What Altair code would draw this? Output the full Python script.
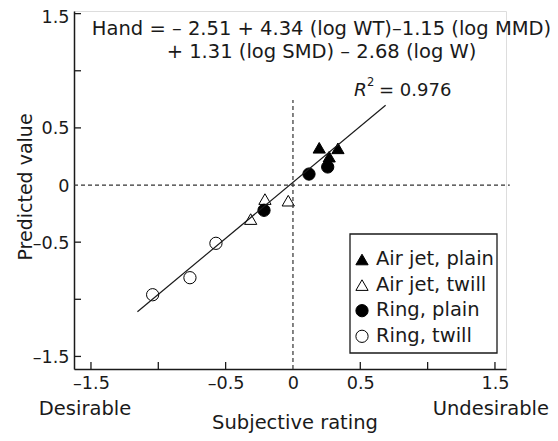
import altair as alt
import pandas as pd

# ---------------- data ----------------
series = ["Air jet, plain", "Air jet, twill", "Ring, plain", "Ring, twill"]

ajp_x = [0.195, 0.269, 0.334]
ajp_y = [0.326, 0.248, 0.321]
ajt_x = [-0.208, -0.314, -0.035]
ajt_y = [-0.123, -0.298, -0.137]
rp_x = [0.119, 0.258, -0.215]
rp_y = [0.096, 0.158, -0.221]
rt_x = [-0.572, -0.765, -1.042]
rt_y = [-0.510, -0.811, -0.960]

fit_x = [-1.155, 0.688]
fit_y = [-1.109, 0.698]

tick_values = [-1.5, -1.0, -0.5, 0.5, 1.0, 1.5]
axis_values = [-1.5, -1.0, -0.5, 0, 0.5, 1.0, 1.5]

eq_lines = ["Hand = \u2013 2.51 + 4.34 (log WT)\u20131.15 (log MMD)",
            "+ 1.31 (log SMD) \u2013 2.68 (log W)"]
r2_value = "= 0.976"

# ---------------- layout ----------------
FONT = "DejaVu Sans"
FS = 19.5
W, H = 432, 358
X_DOM = [-1.626, 1.582]
Y_DOM = [-1.610, 1.523]
xs = alt.Scale(domain=X_DOM, nice=False, zero=False)
ys = alt.Scale(domain=Y_DOM, nice=False, zero=False)

shape_scale = alt.Scale(domain=series, range=["triangle-up", "triangle-up", "circle", "circle"])
fill_scale = alt.Scale(domain=series, range=["black", "white", "black", "white"])
size_scale = alt.Scale(domain=series, range=[150, 150, 95, 95])

pts = pd.DataFrame({
    "x": ajp_x + ajt_x + rp_x + rt_x,
    "y": ajp_y + ajt_y + rp_y + rt_y,
    "series": [series[0]] * 3 + [series[1]] * 3 + [series[2]] * 3 + [series[3]] * 3,
})

lab_expr = "abs(datum.value) == 1 ? '' : replace(datum.label, '\u2212', '\u2013')"


def mk_axis(offset=0):
    return alt.Axis(values=axis_values, format=".1~f", labelExpr=lab_expr,
                    ticks=False, tickSize=0, grid=False, title=None,
                    domainColor="#1a1a1a", domainWidth=1.5,
                    labelFont=FONT, labelFontSize=17.6, labelColor="#1a1a1a",
                    labelPadding=5, labelOffset=offset, labelFlush=False, labelOverlap=False)


y_offset = {"condition": {"test": "datum.value == 1.5", "value": 3.5}, "value": 1.0}

points = alt.Chart(pts).mark_point(filled=True, stroke="black", strokeWidth=1, opacity=1).encode(
    x=alt.X("x:Q", scale=xs, axis=mk_axis()),
    y=alt.Y("y:Q", scale=ys, axis=mk_axis(y_offset)),
    shape=alt.Shape("series:N", scale=shape_scale, legend=None),
    fill=alt.Fill("series:N", scale=fill_scale, legend=None),
    size=alt.Size("series:N", scale=size_scale, legend=None),
)

fit = alt.Chart(pd.DataFrame({"x": fit_x, "y": fit_y})).mark_line(color="#1a1a1a", strokeWidth=1.2).encode(
    x=alt.X("x:Q", scale=xs), y=alt.Y("y:Q", scale=ys))

hdash = alt.Chart(pd.DataFrame({"x": [X_DOM[0]], "x2": [1.61], "y": [0.0]})).mark_rule(
    color="#333", strokeWidth=1.2, strokeDash=[4, 3]).encode(
    x=alt.X("x:Q", scale=xs), x2="x2:Q", y=alt.Y("y:Q", scale=ys))

vdash = alt.Chart(pd.DataFrame({"x": [0.0], "y": [Y_DOM[0]], "y2": [0.744]})).mark_rule(
    color="#333", strokeWidth=1.2, strokeDash=[4, 3]).encode(
    x=alt.X("x:Q", scale=xs), y=alt.Y("y:Q", scale=ys), y2="y2:Q")

xticks = alt.Chart(pd.DataFrame({"x": tick_values})).mark_rule(color="#1a1a1a", strokeWidth=1.3).encode(
    x=alt.X("x:Q", scale=xs), y=alt.value(H), y2=alt.value(H - 7))
yticks = alt.Chart(pd.DataFrame({"y": tick_values})).mark_rule(color="#1a1a1a", strokeWidth=1.3).encode(
    y=alt.Y("y:Q", scale=ys), x=alt.value(0), x2=alt.value(7))


def txt(s, x, y, size=FS, align="center", baseline="alphabetic", angle=0, style="normal"):
    return alt.Chart(pd.DataFrame({"t": [s]})).mark_text(
        font=FONT, fontSize=size, align=align, baseline=baseline, angle=angle,
        fontStyle=style, color="#1a1a1a").encode(text="t:N", x=alt.value(x), y=alt.value(y))


texts = [
    txt(eq_lines[0], 247.5, 24),
    txt(eq_lines[1], 247.5, 47),
    txt("R", 280, 85, size=18.5, align="left", style="italic"),
    txt("2", 293, 75, size=11.5, align="left"),
    txt(r2_value, 305, 85, size=18, align="left"),
    txt("Desirable", 11, 404),
    txt("Undesirable", 475, 404, align="right"),
    txt("Subjective rating", 221, 418),
    txt("Predicted value", -42, 176, size=19, angle=270),
]

# legend (manual box)
leg_df = pd.DataFrame({"series": series, "idx": list(range(len(series)))})
box = alt.Chart(pd.DataFrame({"a": [0]})).mark_rect(fill="white", stroke="#1a1a1a", strokeWidth=1.3).encode(
    x=alt.value(276), x2=alt.value(423), y=alt.value(223), y2=alt.value(342))
leg_base = alt.Chart(leg_df).transform_calculate(
    ly="254 + 25.6 * datum.idx", sy="248.5 + 25.6 * datum.idx")
leg_sym = leg_base.mark_point(filled=True, stroke="black", strokeWidth=1, opacity=1).encode(
    x=alt.value(288), y=alt.Y("sy:Q", scale=None),
    shape=alt.Shape("series:N", scale=shape_scale, legend=None),
    fill=alt.Fill("series:N", scale=fill_scale, legend=None),
    size=alt.Size("series:N", scale=size_scale, legend=None))
leg_txt = leg_base.mark_text(font=FONT, fontSize=FS, align="left", baseline="alphabetic", color="#1a1a1a").encode(
    x=alt.value(302), y=alt.Y("ly:Q", scale=None), text="series:N")

chart = alt.layer(points, hdash, vdash, fit, xticks, yticks, box, leg_sym, leg_txt, *texts).properties(
    width=W, height=H,
    padding={"left": 66, "top": 3, "right": 44, "bottom": 64},
    autosize=alt.AutoSizeParams(type="none"),
).configure_view(stroke=None).configure(background="white")

chart.save("out.html", embed_options={"renderer": "svg", "actions": False})
